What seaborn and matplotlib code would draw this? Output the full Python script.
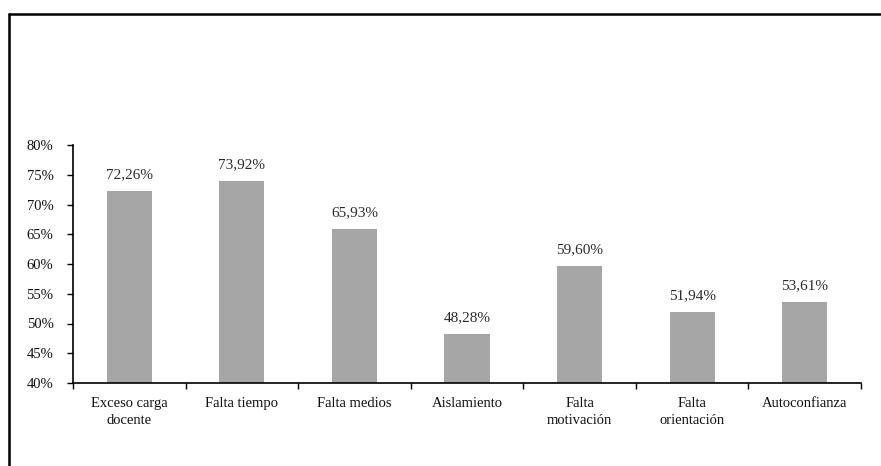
import matplotlib
matplotlib.use("Agg")
import matplotlib.pyplot as plt
from matplotlib.lines import Line2D
from matplotlib.ticker import FixedLocator, FuncFormatter
import seaborn as sns
import pandas as pd
import numpy as np

categories = ["Exceso carga\ndocente", "Falta tiempo", "Falta medios", "Aislamiento",
              "Falta\nmotivación", "Falta\norientación", "Autoconfianza"]
values = [72.26, 73.92, 65.93, 48.28, 59.60, 51.94, 53.61]
y_ticks = [40, 45, 50, 55, 60, 65, 70, 75, 80]

sns.set_theme(style="white")
plt.rcParams["font.family"] = ["Liberation Serif", "DejaVu Serif"]

W, H = 881, 466
fig = plt.figure(figsize=(W / 100, H / 100), dpi=100)
ax = fig.add_axes([73 / W, 1 - 383 / H, (861 - 73) / W, (383 - 145) / H])

df = pd.DataFrame({"cat": categories, "val": values})
sns.barplot(data=df, x="cat", y="val", color="#A6A6A6", width=0.4,
            saturation=1, ax=ax, linewidth=0)

ax.set_ylim(40, 80)
ax.set_xlim(-0.5, len(categories) - 0.5)
ax.set_yticks(y_ticks)
ax.yaxis.set_major_formatter(FuncFormatter(lambda v, p: f"{v:.0f}%"))
ax.set_xlabel("")
ax.set_ylabel("")

for c in ax.containers:
    ax.bar_label(c, labels=[f"{v:.2f}".replace(".", ",") + "%" for v in values],
                 padding=7, fontsize=11, color="#2b2b2b")

ax.spines["top"].set_visible(False)
ax.spines["right"].set_visible(False)
for s in ("left", "bottom"):
    ax.spines[s].set_color("black")
    ax.spines[s].set_linewidth(1.2)

ax.tick_params(axis="y", which="major", length=4, width=1, color="black",
               direction="out", left=True, labelsize=10.5, labelcolor="#111111", pad=10)
ax.tick_params(axis="x", which="major", length=0, labelsize=10.5,
               labelcolor="#111111", pad=10)
ax.xaxis.set_minor_locator(FixedLocator(np.arange(-0.5, len(categories), 1.0)))
ax.tick_params(axis="x", which="minor", length=4, width=1, color="black",
               direction="out", bottom=True)
for lbl in ax.get_xticklabels():
    lbl.set_linespacing(1.4)

# outer frame (top and left edges)
fig.add_artist(Line2D([9 / W, 1.0], [1 - 14 / H, 1 - 14 / H], color="black",
                      linewidth=1.8, transform=fig.transFigure))
fig.add_artist(Line2D([9 / W, 9 / W], [0.0, 1 - 14 / H], color="black",
                      linewidth=1.8, transform=fig.transFigure))

fig.savefig("out.png", dpi=100)
